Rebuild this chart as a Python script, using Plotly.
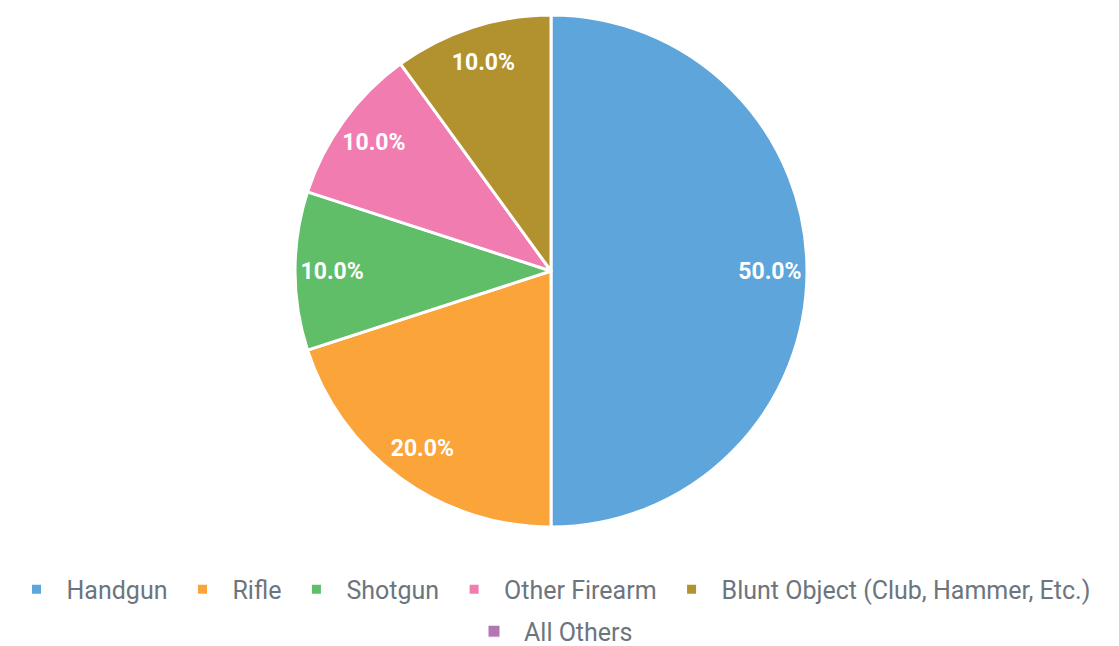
import plotly.graph_objects as go

categories = ["Handgun", "Rifle", "Shotgun", "Other Firearm",
              "Blunt Object (Club, Hammer, Etc.)", "All Others"]
values = [50, 20, 10, 10, 10, 0]
colors = ["#5DA5DA", "#FAA43A", "#60BD68", "#F17CB0", "#B2912F", "#B276B2"]

n_first_row = 5  # legend entries on the first legend row

fig = go.Figure()

# main pie (slices + first legend row)
fig.add_trace(go.Pie(
    labels=categories[:n_first_row],
    values=values[:n_first_row],
    sort=False,
    direction="clockwise",
    rotation=0,
    marker=dict(colors=colors[:n_first_row], line=dict(color="white", width=3)),
    textinfo="none",
    hoverinfo="label+percent",
    showlegend=True,
    legend="legend",
))

# transparent ring overlay carrying the percentage labels near the rim
fig.add_trace(go.Pie(
    labels=categories,
    values=values,
    sort=False,
    direction="clockwise",
    rotation=0,
    hole=0.71,
    marker=dict(colors=["rgba(0,0,0,0)"] * len(values),
                line=dict(color="rgba(0,0,0,0)", width=0)),
    texttemplate="%{percent:.1%}",
    textposition="inside",
    insidetextorientation="horizontal",
    textfont=dict(family="Roboto", size=23, color="white", weight="bold"),
    hoverinfo="skip",
    showlegend=False,
))

# zero-valued categories: legend entries only (second legend row)
for cat, val, col in zip(categories[n_first_row:], values[n_first_row:],
                         colors[n_first_row:]):
    fig.add_trace(go.Scatter(
        x=[None], y=[None],
        mode="markers",
        name=cat,
        marker=dict(symbol="square", size=12, color=col,
                    line=dict(color="white", width=1)),
        hoverinfo="skip",
        showlegend=True,
        legend="legend2",
    ))

legend_font = dict(family="Roboto", size=25, color="#6c757d")

fig.update_layout(
    width=1119, height=646,
    margin=dict(l=0, r=33, t=7, b=127, autoexpand=False),
    paper_bgcolor="white",
    plot_bgcolor="white",
    showlegend=True,
    xaxis=dict(visible=False),
    yaxis=dict(visible=False),
    legend=dict(
        orientation="h",
        x=0.5, xanchor="center",
        y=-0.077, yanchor="top",
        font=legend_font,
        itemwidth=50,
        traceorder="normal",
    ),
    legend2=dict(
        orientation="h",
        x=0.5, xanchor="center",
        y=-0.159, yanchor="top",
        font=legend_font,
        itemwidth=50,
        traceorder="normal",
    ),
)

fig.write_html("out.html")
